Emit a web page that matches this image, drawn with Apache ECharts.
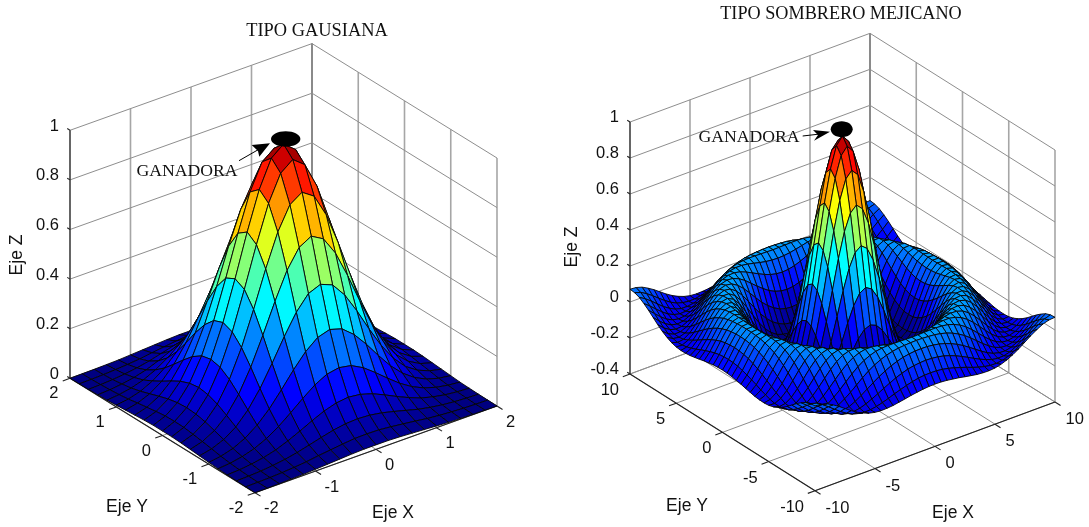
<!DOCTYPE html>
<html>
<head>
<meta charset="utf-8">
<style>html,body{margin:0;padding:0;background:#fff}#c{width:1089px;height:527px}</style>
<script src="https://cdn.jsdelivr.net/npm/echarts@6/dist/echarts.min.js"></script>
</head>
<body>
<div id="c"></div>
<script>
// Heights read per quarter of each (symmetric) surface: row = distance from centre on one axis,
// column = distance on the other axis, column <= row.
const gaussianHeights = [
[1],
[.961,.923],
[.852,.819,.726],
[.698,.670,.595,.487],
[.527,.507,.449,.368,.278],
[.368,.353,.313,.257,.194,.135],
[.237,.228,.202,.165,.125,.087,.056],
[.141,.135,.120,.098,.074,.052,.033,.020],
[.077,.074,.066,.054,.041,.028,.018,.011,.006],
[.039,.038,.033,.027,.021,.014,.009,.0055,.003,.0015],
[.018,.018,.016,.013,.010,.007,.004,.0026,.0014,.0007,.0003]
];
const sombreroHeights = [
[1],
[.959,.919],
[.841,.805,.698],
[.665,.632,.540,.402],
[.455,.428,.352,.239,.109],
[.239,.219,.161,.077,-.019,-.108],
[.047,.033,-.006,-.063,-.124,-.177,-.210],
[-.100,-.108,-.131,-.162,-.193,-.213,-.216,-.196],
[-.189,-.193,-.202,-.212,-.217,-.212,-.192,-.155,-.104],
[-.217,-.217,-.216,-.211,-.199,-.176,-.142,-.096,-.043,.013],
[-.192,-.189,-.182,-.167,-.145,-.114,-.075,-.029,.019,.064,.100],
[-.128,-.125,-.114,-.096,-.071,-.040,-.003,.036,.073,.103,.123,.128],
[-.047,-.043,-.033,-.016,.007,.033,.061,.089,.111,.125,.128,.118,.095],
[.033,.036,.044,.057,.073,.090,.107,.121,.128,.126,.115,.093,.062,.025],
[.094,.096,.100,.107,.115,.123,.128,.128,.121,.107,.085,.056,.022,-.013,-.046],
[.125,.126,.127,.128,.128,.126,.121,.110,.094,.072,.044,.013,-.019,-.048,-.072,-.087],
[.124,.123,.121,.118,.112,.103,.090,.073,.052,.027,-.001,-.029,-.054,-.075,-.088,-.091,-.084],
[.094,.093,.089,.083,.073,.060,.044,.025,.003,-.020,-.043,-.064,-.080,-.089,-.091,-.083,-.067,-.043],
[.046,.044,.040,.033,.022,.009,-.007,-.024,-.042,-.059,-.074,-.086,-.091,-.090,-.081,-.064,-.042,-.015,.013],
[-.008,-.009,-.013,-.020,-.029,-.040,-.051,-.064,-.075,-.084,-.090,-.091,-.086,-.076,-.059,-.037,-.012,.014,.038,.057],
[-.054,-.055,-.058,-.063,-.068,-.075,-.081,-.087,-.090,-.091,-.088,-.080,-.067,-.050,-.029,-.005,.019,.040,.058,.068,.071]
];
const gaussianXYTicks = [-2,-1,0,1,2];
const gaussianZTicks = [0,0.2,0.4,0.6,0.8,1];
const sombreroXYTicks = [-10,-5,0,5,10];
const sombreroZTicks = [-0.4,-0.2,0,0.2,0.4,0.6,0.8,1];
const jetColors = ['#00007f','#0000ff','#007fff','#00ffff','#7fff7f','#ffff00','#ff7f00','#ff0000','#7f0000'];

const panels = [
 {heights:gaussianHeights, xyTicks:gaussianXYTicks, zTicks:gaussianZTicks, xyMax:2, zMin:0, zMax:1, colorMin:0, colorMax:1,
  front:[255,492.7], right:[497,406], left:[70,378.3], wall:248,
  title:{text:'TIPO GAUSIANA',x:317,y:31,size:18.4},
  note:{text:'GANADORA',x:187,y:171,size:17.7},
  dot:{cx:285.7,cy:139,rx:14.7,ry:7.7},
  arrow:{line:[[239,160.7],[262,147.5]],head:[[270,143.3],[251.7,145],[258,151],[259.3,156.7]]},
  names:{x:[393,513],y:[127,507],z:[17,255]},
  yLabel:[-11.5,15.5], xLabel:[9,16], zLabel:[-11,-4], view:{left:0,width:545}},
 {heights:sombreroHeights, xyTicks:sombreroXYTicks, zTicks:sombreroZTicks, xyMax:10, zMin:-0.4, zMax:1, colorMin:-0.217, colorMax:1,
  front:[815,490.7], right:[1055,402], left:[630,374], wall:252,
  title:{text:'TIPO SOMBRERO MEJICANO',x:841,y:14,size:18.2},
  note:{text:'GANADORA',x:749,y:137,size:17.7},
  dot:{cx:841.7,cy:129.3,rx:11,ry:8},
  arrow:{line:[[802.7,136],[820,134]],head:[[830,131.7],[813,130],[818,135],[814,140.7]]},
  names:{x:[953,513],y:[687,506],z:[572,247]},
  yLabel:[-11,16.5], xLabel:[10.5,17.5], zLabel:[-11,-5], view:{left:545,width:544}}
];

function project(p,x,y,z){
  const tx=(x+p.xyMax)/(2*p.xyMax), ty=(y+p.xyMax)/(2*p.xyMax), tz=(z-p.zMin)/(p.zMax-p.zMin);
  return [p.front[0]+tx*(p.right[0]-p.front[0])+ty*(p.left[0]-p.front[0]),
          p.front[1]+tx*(p.right[1]-p.front[1])+ty*(p.left[1]-p.front[1])-tz*p.wall];
}
function heightAt(p,i,j){
  const c=p.heights.length-1, a=Math.abs(i-c), b=Math.abs(j-c);
  return p.heights[Math.max(a,b)][Math.min(a,b)];
}

const series=[], visualMaps=[], xAxes=[], yAxes=[], grids=[];
panels.forEach((p,k)=>{
  grids.push({left:p.view.left,top:0,width:p.view.width,height:527,show:false});
  xAxes.push({type:'value',gridIndex:k,min:p.view.left,max:p.view.left+p.view.width,show:false});
  yAxes.push({type:'value',gridIndex:k,min:0,max:527,inverse:true,show:false});

  // frame: walls, floor, axes, ticks
  const m=p.xyMax, segs=[], soft={stroke:'#8e8e8e',lineWidth:1}, vert={stroke:'#a6a6a6',lineWidth:1.6}, dark={stroke:'#222',lineWidth:1.1};
  p.xyTicks.forEach(t=>{
    segs.push([project(p,t,m,p.zMin),project(p,t,m,p.zMax),t===m?{stroke:'#8a8a8a',lineWidth:2}:vert]);
    segs.push([project(p,m,t,p.zMin),project(p,m,t,p.zMax),t===m?{stroke:'#8a8a8a',lineWidth:2}:vert]);
    segs.push([project(p,t,-m,p.zMin),project(p,t,m,p.zMin),soft]);
    segs.push([project(p,-m,t,p.zMin),project(p,m,t,p.zMin),soft]);
  });
  p.zTicks.forEach(z=>{
    segs.push([project(p,-m,m,z),project(p,m,m,z),soft]);
    segs.push([project(p,m,m,z),project(p,m,-m,z),soft]);
  });
  segs.push([project(p,-m,-m,p.zMin),project(p,m,-m,p.zMin),dark]);
  segs.push([project(p,-m,-m,p.zMin),project(p,-m,m,p.zMin),dark]);
  segs.push([project(p,-m,m,p.zMin),project(p,-m,m,p.zMax),dark]);
  const tick=0.06*m;
  p.xyTicks.forEach(t=>{
    segs.push([project(p,t,-m,p.zMin),project(p,t,-m-tick,p.zMin),dark]);
    segs.push([project(p,-m,t,p.zMin),project(p,-m-tick,t,p.zMin),dark]);
  });
  p.zTicks.forEach(z=>segs.push([project(p,-m,m,z),project(p,-m,m+tick/2,z),dark]));
  series.push({type:'custom',xAxisIndex:k,yAxisIndex:k,clip:false,silent:true,progressive:0,
    data:segs.map((s,i)=>[i,0]),
    renderItem(params,api){
      const s=segs[params.dataIndex],a=api.coord(s[0]),b=api.coord(s[1]);
      return {type:'line',shape:{x1:a[0],y1:a[1],x2:b[0],y2:b[1]},style:Object.assign({fill:null},s[2])};
    }});

  // surface, back to front; each face takes the colour of its lowest-index corner
  const n=2*(p.heights.length-1), step=2*m/n, cells=[];
  for(let i=n-1;i>=0;i--) for(let j=n-1;j>=0;j--){
    cells.push([i,j,heightAt(p,i,j)]);
  }
  visualMaps.push({show:false,seriesIndex:series.length,dimension:2,min:p.colorMin,max:p.colorMax,inRange:{color:jetColors}});
  series.push({type:'custom',xAxisIndex:k,yAxisIndex:k,clip:false,silent:true,progressive:0,
    encode:{x:0,y:1},data:cells,
    renderItem(params,api){
      const i=api.value(0),j=api.value(1);
      const pts=[[i,j],[i+1,j],[i+1,j+1],[i,j+1]].map(q=>api.coord(project(p,-m+q[0]*step,-m+q[1]*step,heightAt(p,q[0],q[1]))));
      return {type:'polygon',shape:{points:pts},style:{fill:api.visual('color'),stroke:'#050505',lineWidth:0.9}};
    }});

  // texts and the winner annotation
  const labels=[];
  const sans='"Liberation Sans"', serif='"Liberation Serif"';
  p.xyTicks.forEach(t=>{
    labels.push({text:String(t),at:project(p,-m,t,p.zMin),off:p.yLabel,align:'right',font:sans,size:16.5});
    labels.push({text:String(t),at:project(p,t,-m,p.zMin),off:p.xLabel,align:'left',font:sans,size:16.5});
  });
  p.zTicks.forEach(z=>labels.push({text:String(z),at:project(p,-m,m,z),off:p.zLabel,align:'right',font:sans,size:16.5}));
  [['Eje X',p.names.x,0],['Eje Y',p.names.y,0],['Eje Z',p.names.z,Math.PI/2]].forEach(e=>
    labels.push({text:e[0],at:e[1],off:[0,0],align:'center',font:sans,size:17.5,rotation:e[2]}));
  [p.title,p.note].forEach(e=>labels.push({text:e.text,at:[e.x,e.y],off:[0,0],align:'center',font:serif,size:e.size}));
  series.push({type:'custom',xAxisIndex:k,yAxisIndex:k,clip:false,silent:true,progressive:0,
    data:labels.map((s,i)=>[i,0]),
    renderItem(params,api){
      const l=labels[params.dataIndex],a=api.coord(l.at);
      return {type:'text',x:a[0]+l.off[0],y:a[1]+l.off[1],rotation:l.rotation||0,
        style:{text:l.text,fill:'#111',fontFamily:l.font,fontSize:l.size,align:l.align,verticalAlign:'middle'}};
    }});
  series.push({type:'custom',xAxisIndex:k,yAxisIndex:k,clip:false,silent:true,progressive:0,
    data:[[p.dot.cx,p.dot.cy]],
    renderItem(params,api){
      const c=api.coord([p.dot.cx,p.dot.cy]);
      return {type:'group',children:[
        {type:'ellipse',shape:{cx:c[0],cy:c[1],rx:p.dot.rx,ry:p.dot.ry},style:{fill:'#000'}},
        {type:'polyline',shape:{points:p.arrow.line.map(q=>api.coord(q))},style:{stroke:'#000',lineWidth:1,fill:null}},
        {type:'polygon',shape:{points:p.arrow.head.map(q=>api.coord(q))},style:{fill:'#000'}}
      ]};
    }});
});

const chart=echarts.init(document.getElementById('c'),null,{renderer:'canvas'});
chart.setOption({animation:false,backgroundColor:'#fff',tooltip:{show:false},grid:grids,xAxis:xAxes,yAxis:yAxes,visualMap:visualMaps,series:series});
</script>
</body>
</html>
